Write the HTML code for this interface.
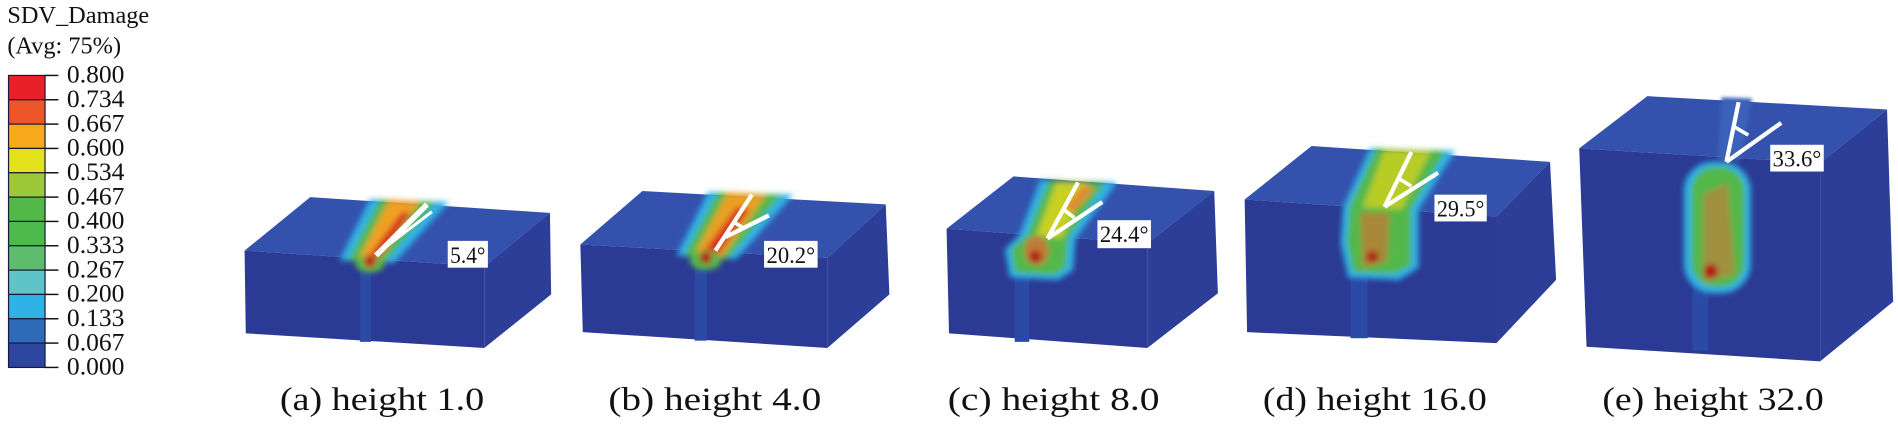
<!DOCTYPE html>
<html><head><meta charset="utf-8"><style>
html,body{margin:0;padding:0;background:#fff;overflow:hidden;}
svg{display:block;}
text{font-family:"Liberation Serif",serif;fill:#111;}
</style></head><body>
<svg width="1898" height="424" viewBox="0 0 1560 348.5" xmlns="http://www.w3.org/2000/svg">
<defs>
<filter id="bl" x="-50%" y="-50%" width="200%" height="200%"><feGaussianBlur stdDeviation="2.5"/></filter>
<filter id="bl2" x="-50%" y="-50%" width="200%" height="200%"><feGaussianBlur stdDeviation="1.5"/></filter>
</defs>
<!-- legend -->
<text x="6" y="19" font-size="20">SDV_Damage</text>
<text x="6" y="44" font-size="20">(Avg: 75%)</text>
<g stroke="#1a1a3a" stroke-width="1">
<rect x="7" y="62" width="30" height="20" fill="#e8202a"/>
<rect x="7" y="82" width="30" height="20" fill="#ee5528"/>
<rect x="7" y="102" width="30" height="20" fill="#f7a91c"/>
<rect x="7" y="122" width="30" height="20" fill="#e4e21c"/>
<rect x="7" y="142" width="30" height="20" fill="#9dc83a"/>
<rect x="7" y="162" width="30" height="20" fill="#52b848"/>
<rect x="7" y="182" width="30" height="20" fill="#4dba4e"/>
<rect x="7" y="202" width="30" height="20" fill="#5ebd6c"/>
<rect x="7" y="222" width="30" height="20" fill="#5ec4c8"/>
<rect x="7" y="242" width="30" height="20" fill="#2fb2e6"/>
<rect x="7" y="262" width="30" height="20" fill="#2f6ab8"/>
<rect x="7" y="282" width="30" height="20" fill="#2e45a0"/>
</g>
<g stroke="#111" stroke-width="1.2">
<line x1="37" y1="62" x2="48" y2="62"/><line x1="37" y1="82" x2="48" y2="82"/><line x1="37" y1="102" x2="48" y2="102"/><line x1="37" y1="122" x2="48" y2="122"/><line x1="37" y1="142" x2="48" y2="142"/><line x1="37" y1="162" x2="48" y2="162"/><line x1="37" y1="182" x2="48" y2="182"/><line x1="37" y1="202" x2="48" y2="202"/><line x1="37" y1="222" x2="48" y2="222"/><line x1="37" y1="242" x2="48" y2="242"/><line x1="37" y1="262" x2="48" y2="262"/><line x1="37" y1="282" x2="48" y2="282"/><line x1="37" y1="302" x2="48" y2="302"/>
</g>
<g font-size="21">
<text x="55" y="68">0.800</text><text x="55" y="88">0.734</text><text x="55" y="108">0.667</text><text x="55" y="128">0.600</text><text x="55" y="148">0.534</text><text x="55" y="168">0.467</text><text x="55" y="188">0.400</text><text x="55" y="208">0.333</text><text x="55" y="228">0.267</text><text x="55" y="248">0.200</text><text x="55" y="268">0.133</text><text x="55" y="288">0.067</text><text x="55" y="308">0.000</text>
</g>

<!-- block a -->
<g>
<polygon points="201,206 255,162 452,175 398,219" fill="#3452ad"/>
<polygon points="398,219 452,175 453,242 398,286" fill="#2c3e97"/>
<polygon points="201,206 398,219 398,286 202,274" fill="#2b3a94"/>
<rect x="296" y="219" width="9" height="62" fill="#2a4aa6"/>
<g filter="url(#bl)">
<polygon points="279,214 304,164 369,166 324,216" fill="#2fb2e6"/>
<polygon points="286,214 312,164 358,166 316,216" fill="#52b848"/>
<polygon points="294,214 320,164 345,166 310,216" fill="#f0a020"/>
<polygon points="300,215 330,175 338,175 308,217" fill="#d62a20"/>
<ellipse cx="304" cy="217" rx="12" ry="7" fill="#52b848"/>
<circle cx="304" cy="215" r="5" fill="#c01818"/>
</g>
<line x1="309" y1="210" x2="351" y2="168" stroke="#fff" stroke-width="4.5"/>
<line x1="313" y1="206" x2="355" y2="174" stroke="#fff" stroke-width="2.5"/>
<rect x="368" y="198" width="33" height="22" fill="#fff"/>
<text x="370" y="216" font-size="19" textLength="29" lengthAdjust="spacingAndGlyphs">5.4°</text>
</g>

<!-- block b -->
<g>
<polygon points="477,201 528,157 728,168 680,212" fill="#3452ad"/>
<polygon points="680,212 728,168 731,242 680,286" fill="#2c3e97"/>
<polygon points="477,201 680,212 680,286 479,273" fill="#2b3a94"/>
<rect x="571" y="214" width="10" height="66" fill="#2a4aa6"/>
<g filter="url(#bl)">
<polygon points="556,210 582,158 652,160 605,213" fill="#2fb2e6"/>
<polygon points="562,210 590,158 642,160 598,213" fill="#52b848"/>
<polygon points="570,210 598,158 630,160 592,213" fill="#e8a020"/>
<polygon points="575,211 606,170 616,172 588,213" fill="#d83020"/>
<ellipse cx="580" cy="214" rx="13" ry="8" fill="#52b848"/>
<circle cx="580" cy="212" r="5" fill="#b01818"/>
</g>
<line x1="588" y1="206" x2="618" y2="160" stroke="#fff" stroke-width="3.5"/>
<line x1="596" y1="195" x2="632" y2="177" stroke="#fff" stroke-width="3.5"/>
<path d="M604,183 L612,188" stroke="#fff" stroke-width="3" fill="none"/>
<rect x="628" y="198" width="44" height="22" fill="#fff"/>
<text x="630" y="216" font-size="19" textLength="40" lengthAdjust="spacingAndGlyphs">20.2°</text>
</g>

<!-- block c -->
<g>
<polygon points="778,188 833,145 998,157 943,200" fill="#3452ad"/>
<polygon points="943,200 998,157 1001,241 943,286" fill="#2c3e97"/>
<polygon points="778,188 943,200 943,286 780,274" fill="#2b3a94"/>
<rect x="834" y="219" width="12" height="62" fill="#2a4aa6"/>
<g filter="url(#bl)">
<polygon points="838,193 855,148 918,150 884,196 882,222 870,230 830,228 826,205" fill="#2fb2e6"/>
<polygon points="844,193 862,148 908,150 878,196 876,220 866,226 834,224 831,205" fill="#52b848"/>
<polygon points="852,193 868,150 895,150 872,196" fill="#c8d020"/>
<polygon points="875,170 890,152 900,155 882,175" fill="#e08a30"/>
<ellipse cx="852" cy="206" rx="10" ry="12" fill="#c07a38"/>
<circle cx="851" cy="211" r="5" fill="#b01818"/>
</g>
<line x1="861" y1="196" x2="886" y2="150" stroke="#fff" stroke-width="3.5"/>
<line x1="861" y1="196" x2="906" y2="166" stroke="#fff" stroke-width="3.5"/>
<path d="M874,172 L883,179" stroke="#fff" stroke-width="3" fill="none"/>
<rect x="902" y="181" width="44" height="23" fill="#fff"/>
<text x="904" y="199" font-size="19" textLength="40" lengthAdjust="spacingAndGlyphs">24.4°</text>
</g>

<!-- block d -->
<g>
<polygon points="1023,164 1078,120 1274,133 1230,178" fill="#3452ad"/>
<polygon points="1230,178 1274,133 1279,230 1230,282" fill="#2c3e97"/>
<polygon points="1023,164 1230,178 1230,282 1025,273" fill="#2b3a94"/>
<rect x="1110" y="223" width="14" height="55" fill="#2a4aa6"/>
<g filter="url(#bl)">
<polygon points="1104,170 1126,122 1196,124 1166,172 1166,220 1150,230 1108,228 1102,200" fill="#2fb2e6"/>
<polygon points="1109,170 1131,122 1188,124 1160,172 1160,218 1146,225 1112,224 1107,200" fill="#52b848"/>
<polygon points="1120,170 1138,123 1176,124 1152,172" fill="#b8cc28"/>
<polygon points="1118,175 1142,175 1140,215 1120,220" fill="#a88838"/>
<circle cx="1128" cy="211" r="5" fill="#b01818"/>
</g>
<line x1="1138" y1="170" x2="1160" y2="125" stroke="#fff" stroke-width="3.5"/>
<line x1="1138" y1="170" x2="1182" y2="142" stroke="#fff" stroke-width="3.5"/>
<path d="M1150,147 L1160,153" stroke="#fff" stroke-width="3" fill="none"/>
<rect x="1179" y="160" width="43" height="22" fill="#fff"/>
<text x="1181" y="178" font-size="19" textLength="39" lengthAdjust="spacingAndGlyphs">29.5°</text>
</g>

<!-- block e -->
<g>
<polygon points="1298,122 1354,79 1551,90 1496,134" fill="#3452ad"/>
<polygon points="1496,134 1551,90 1556,248 1496,297" fill="#2c3e97"/>
<polygon points="1298,122 1496,134 1496,297 1304,285" fill="#2b3a94"/>
<rect x="1391" y="230" width="13" height="58" fill="#2a4aa6"/>
<polygon points="1415,80 1440,81 1430,132 1412,131" fill="#3a62b8" filter="url(#bl2)"/>
<g filter="url(#bl)">
<rect x="1384" y="133" width="55" height="108" rx="24" fill="#2fb2e6"/>
<rect x="1390" y="137" width="44" height="99" rx="20" fill="#52b848"/>
<polygon points="1400,160 1420,150 1426,225 1400,232" fill="#a09040"/>
<circle cx="1406" cy="223" r="6" fill="#b01818"/>
</g>
<line x1="1419" y1="133" x2="1429" y2="84" stroke="#fff" stroke-width="3.5"/>
<line x1="1419" y1="133" x2="1464" y2="101" stroke="#fff" stroke-width="3.5"/>
<path d="M1425,104 L1437,111" stroke="#fff" stroke-width="3" fill="none"/>
<rect x="1455" y="119" width="44" height="22" fill="#fff"/>
<text x="1457" y="137" font-size="19" textLength="40" lengthAdjust="spacingAndGlyphs">33.6°</text>
</g>

<!-- captions -->
<g font-size="27">
<text x="230" y="337" textLength="168" lengthAdjust="spacingAndGlyphs">(a) height 1.0</text>
<text x="500" y="337" textLength="175" lengthAdjust="spacingAndGlyphs">(b)  height 4.0</text>
<text x="779" y="337" textLength="174" lengthAdjust="spacingAndGlyphs">(c)  height 8.0</text>
<text x="1038" y="337" textLength="184" lengthAdjust="spacingAndGlyphs">(d) height 16.0</text>
<text x="1317" y="337" textLength="182" lengthAdjust="spacingAndGlyphs">(e) height 32.0</text>
</g>
</svg>
</body></html>
